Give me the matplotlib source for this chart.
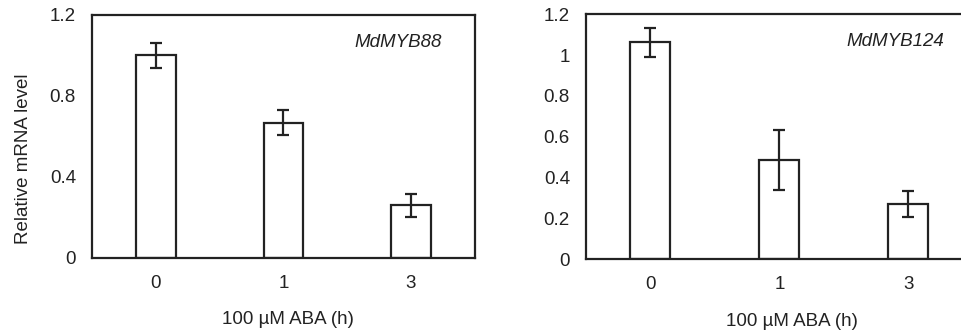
import numpy as np
import matplotlib
matplotlib.use('Agg')
import matplotlib.pyplot as plt

plt.rcParams['font.family'] = ['Liberation Sans', 'DejaVu Sans']

# data
times = ['0', '1', '3']
myb88 = [1.00, 0.668, 0.26]
myb88_err = [0.06, 0.062, 0.056]
myb124 = [1.063, 0.485, 0.27]
myb124_err = [0.072, 0.148, 0.064]

ink = '#222222'
fs = 13.5
ind = np.arange(len(times))
width = 0.31

fig = plt.figure(figsize=(9.62, 3.35), dpi=100)
ax1 = fig.add_axes([0.0956, 0.2299, 0.398, 0.7254])
ax2 = fig.add_axes([0.6091, 0.226, 0.4023, 0.7313])

panels = [
    (ax1, myb88, myb88_err, 'MdMYB88', [0, 0.4, 0.8, 1.2], ['0', '0.4', '0.8', '1.2'], 0.512),
    (ax2, myb124, myb124_err, 'MdMYB124', [0, 0.2, 0.4, 0.6, 0.8, 1.0, 1.2],
     ['0', '0.2', '0.4', '0.6', '0.8', '1', '1.2'], 0.532),
]

for ax, vals, errs, gene, yt, ytl, xl in panels:
    ax.bar(ind, vals, width, color='white', edgecolor=ink, linewidth=1.6,
           yerr=errs, error_kw=dict(ecolor=ink, elinewidth=1.6, capsize=4, capthick=1.6))
    ax.set_xlim(-0.5, 2.5)
    ax.set_ylim(0, 1.2)
    ax.set_xticks(ind)
    ax.set_xticklabels(times)
    ax.set_yticks(yt)
    ax.set_yticklabels(ytl)
    ax.tick_params(axis='both', length=0, labelsize=fs, colors=ink)
    ax.tick_params(axis='y', pad=11.5)
    ax.tick_params(axis='x', pad=12)
    for s in ax.spines.values():
        s.set_linewidth(1.6)
        s.set_color(ink)
    ax.set_xlabel('100 µM ABA (h)', fontsize=fs, color=ink)
    ax.xaxis.set_label_coords(xl, -0.255)
    ax.xaxis.label.set_va('center')
    ax.text(0.8, 0.888, gene, transform=ax.transAxes, style='italic',
            ha='center', va='center', fontsize=fs, color=ink)

ax1.set_ylabel('Relative mRNA level', fontsize=fs, color=ink)
ax1.yaxis.set_label_coords(-0.18, 0.407)
ax1.yaxis.label.set_va('center')

fig.savefig('out.png', dpi=100)
